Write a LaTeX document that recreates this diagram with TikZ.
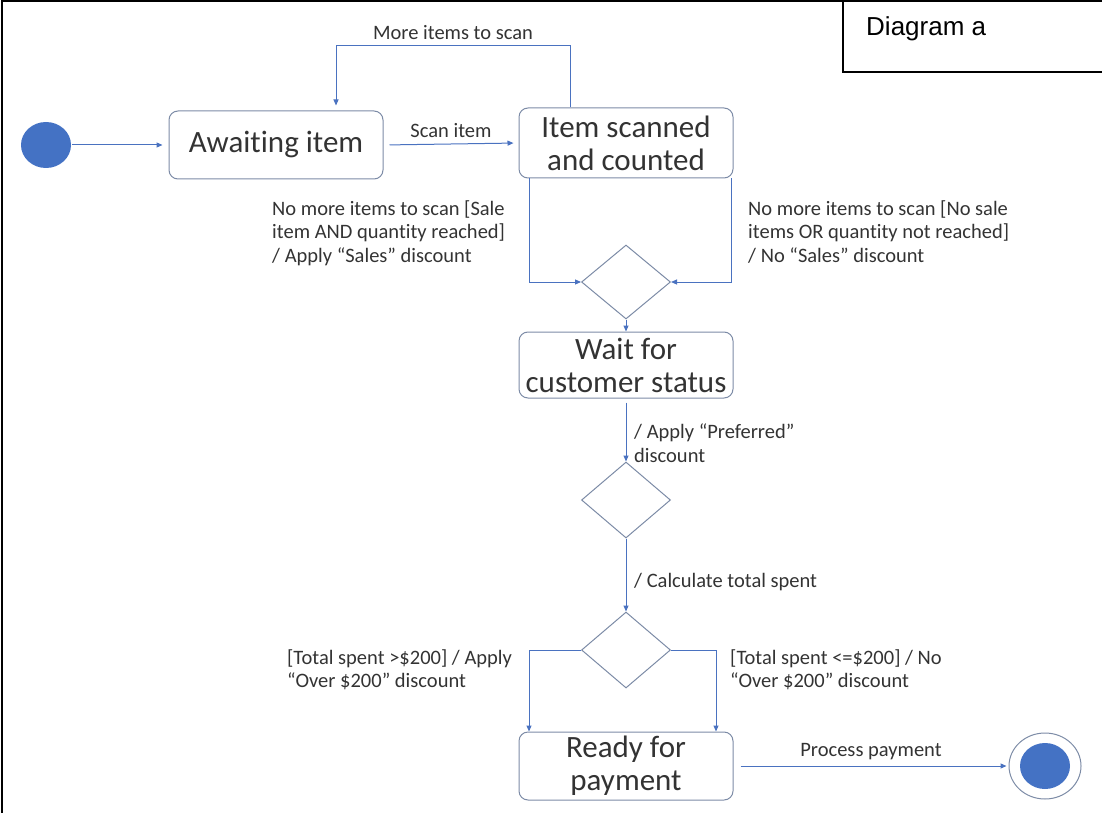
\documentclass[tikz,border=0pt]{standalone}
\usepackage{fontspec}
\setmainfont{Carlito}[Ligatures=NoCommon]
\newfontfamily\arialfont{Liberation Sans}
\usetikzlibrary{arrows.meta,shapes.geometric}
\definecolor{lineblue}{HTML}{4A72C0}
\definecolor{boxgray}{HTML}{7C8BA6}
\definecolor{txt}{HTML}{333333}
\definecolor{fillblue}{HTML}{4472C4}
\begin{document}
\begin{tikzpicture}[x=1pt,y=-1pt,
  state/.style={draw=boxgray,line width=1pt,rounded corners=9pt,minimum width=214pt,minimum height=68pt,align=center,font=\fontsize{31}{33}\selectfont,text=txt,inner sep=0pt},
  choice/.style={draw=boxgray,line width=1pt,diamond,minimum width=89pt,minimum height=74pt,inner sep=0pt},
  conn/.style={draw=lineblue,line width=1pt,-{Triangle[length=6pt,width=5pt]}},
  lbl/.style={font=\fontsize{20.5}{23.5}\selectfont,text=txt,align=left,inner sep=0pt},
  slbl/.style={font=\fontsize{20.5}{23.5}\selectfont,text=txt,inner sep=0pt}]
\useasboundingbox (0,0) rectangle (1102,813);
% frame
\draw[black,line width=2pt] (2,813) -- (2,1) -- (1102,1);
\draw[black,line width=1.5pt] (843,1) -- (843,72) -- (1102,72);
\node[anchor=west,font=\arialfont\fontsize{26}{28}\selectfont,inner sep=0pt] (title) at (866,29) {Diagram a};
% nodes
\node[ellipse,fill=fillblue,minimum width=50pt,minimum height=46pt,inner sep=0pt] (init) at (46,145) {};
\node[state] (await) at (276,145) {Awaiting item};
\node[state,minimum height=70pt] (scanned) at (626,143) {Item scanned\\and counted};
\node[choice] (d1) at (626,282) {};
\node[state,minimum height=66pt] (wait) at (626,365) {Wait for\\customer status};
\node[choice,minimum height=76pt] (d2) at (626,500) {};
\node[choice,minimum height=76pt] (d3) at (626,650) {};
\node[state] (ready) at (626,766) {Ready for\\payment};
\node[ellipse,draw=boxgray,line width=1pt,minimum width=72pt,minimum height=66pt,inner sep=0pt] (final) at (1045,766) {};
\node[ellipse,fill=fillblue,minimum width=50pt,minimum height=46pt,inner sep=0pt] (finalin) at (final.center) {};
% connectors
\draw[conn,shorten <=1pt,shorten >=6pt] (init.east) -- (await.west);
\draw[conn,shorten <=6pt,shorten >=5pt] (await.east) -- node[slbl,above=6pt] (l1) {Scan item} (scanned.west);
\coordinate (loopA) at (570,46);
\coordinate (loopB) at (336,46);
\draw[conn,shorten >=5pt] (scanned.north -| loopA) -- (loopA) -- node[slbl,above=6pt] (l2) {More items to scan} (loopB) -- (await.north -| loopB);
\coordinate (lb) at (529,282);
\coordinate (rb) at (731,282);
\draw[conn] (scanned.south -| lb) -- (lb) -- (d1.west);
\draw[conn] (scanned.south -| rb) -- (rb) -- (d1.east);
\node[lbl,anchor=north west] (l3) at (272,200) {No more items to scan [Sale\\item AND quantity reached]\\/ Apply “Sales” discount};
\node[lbl,anchor=north west] (l4) at (748,200) {No more items to scan [No sale\\items OR quantity not reached]\\/ No “Sales” discount};
\draw[conn] (d1.south) -- (wait.north);
\draw[conn,shorten <=4pt] (wait.south) -- (d2.north);
\node[lbl,anchor=north west] (l5) at (634,424) {/ Apply “Preferred”\\discount};
\draw[conn] (d2.south) -- (d3.north);
\node[lbl,anchor=north west] (l6) at (634,573) {/ Calculate total spent};
\coordinate (lc) at (529,650);
\coordinate (rc) at (716,650);
\draw[conn] (d3.west) -- (lc) -- (ready.north -| lc);
\draw[conn] (d3.east) -- (rc) -- (ready.north -| rc);
\node[lbl,anchor=north west] (l7) at (287,649) {[Total spent >\$200] / Apply\\“Over \$200” discount};
\node[lbl,anchor=north west] (l8) at (730,649) {[Total spent <=\$200] / No\\“Over \$200” discount};
\draw[conn,shorten <=7pt,shorten >=2pt] (ready.east) -- node[slbl,above=6pt] (l9) {Process payment} (final.west);
\end{tikzpicture}
\end{document}
